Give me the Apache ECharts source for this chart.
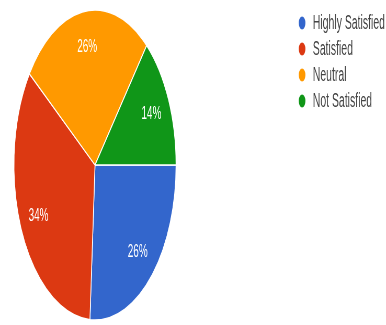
<!DOCTYPE html>
<html>
<head>
<meta charset="utf-8">
<script src="https://cdn.jsdelivr.net/npm/echarts@6/dist/echarts.min.js"></script>
<style>
html,body{margin:0;padding:0;background:#fff;overflow:hidden;width:386px;height:325px;}
#wrap{width:386px;height:325px;overflow:hidden;position:relative;}
#chart{position:absolute;left:0;top:0;height:325px;transform-origin:0 0;}
</style>
</head>
<body>
<div id="wrap"><div id="chart"></div></div>
<script>
const categories = ["Highly Satisfied", "Satisfied", "Neutral", "Not Satisfied"];
const values = [26, 34, 26, 14];
const colors = ["#3366cc", "#dc3912", "#ff9900", "#109618"];

const SX = 0.523;
const W = Math.round(386 / SX);
const el = document.getElementById('chart');
el.style.width = W + 'px';
el.style.transform = 'scaleX(' + SX + ')';

const chart = echarts.init(el, null, {renderer: 'canvas', width: W, height: 325});
const cx = 95 / SX, cy = 165, R = 155;
const data = categories.map((c, i) => ({name: c, value: values[i], itemStyle: {color: colors[i]}}));

chart.setOption({
  animation: false,
  color: colors,
  legend: {
    orient: 'vertical',
    left: 295 / SX,
    top: 8,
    icon: 'circle',
    itemWidth: 15,
    itemHeight: 15,
    itemGap: 6,
    textStyle: {fontFamily: 'Liberation Sans, Arial, sans-serif', fontSize: 20, lineHeight: 20, color: '#444', padding: [0, 0, 0, 8]},
    data: categories
  },
  series: [
    {
      type: 'pie',
      center: [cx, cy],
      radius: [0, R],
      startAngle: 0,
      clockwise: true,
      avoidLabelOverlap: false,
      label: {show: false},
      labelLine: {show: false},
      itemStyle: {borderColor: '#fff', borderWidth: 1.5},
      emphasis: {disabled: true},
      data: data
    },
    {
      type: 'pie',
      center: [cx, cy],
      radius: [R * 0.5, R],
      startAngle: 0,
      clockwise: true,
      silent: true,
      avoidLabelOverlap: false,
      legendHoverLink: false,
      itemStyle: {color: 'rgba(0,0,0,0)', borderWidth: 0},
      label: {
        show: true,
        position: 'inside',
        formatter: '{c}%',
        color: '#fff',
        fontFamily: 'Liberation Sans, Arial, sans-serif',
        fontSize: 19
      },
      labelLine: {show: false},
      emphasis: {disabled: true},
      data: categories.map((c, i) => ({name: c + ' ', value: values[i]}))
    }
  ]
});
</script>
</body>
</html>
